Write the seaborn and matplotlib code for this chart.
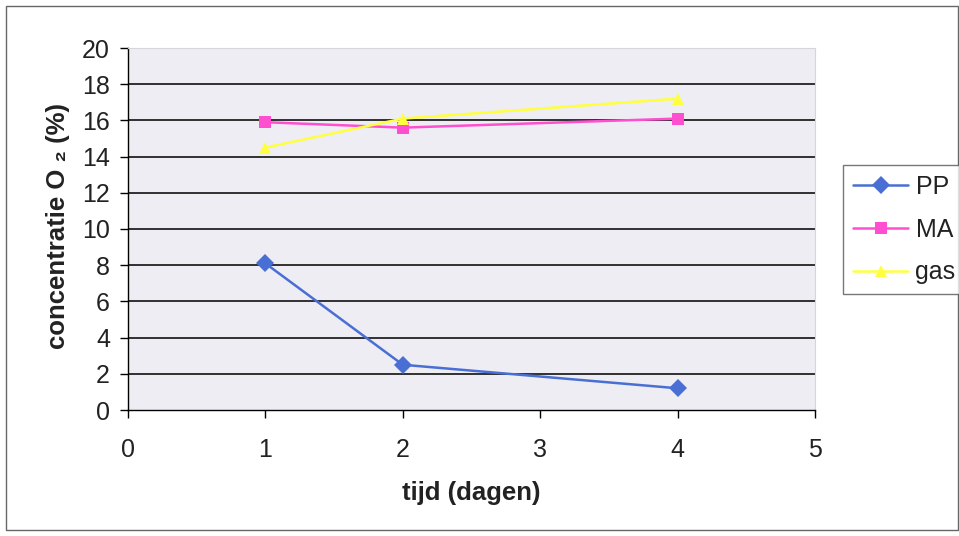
import matplotlib
matplotlib.use("Agg")
import matplotlib.pyplot as plt
import seaborn as sns
import pandas as pd
from matplotlib.patches import Rectangle
from matplotlib.lines import Line2D

days = [1, 2, 4]
pp = [8.1, 2.5, 1.2]
ma = [15.9, 15.6, 16.1]
gas = [14.5, 16.1, 17.2]
series_names = ["PP", "MA", "gas"]
y_ticks = [0, 2, 4, 6, 8, 10, 12, 14, 16, 18, 20]
x_ticks = [0, 1, 2, 3, 4, 5]

df = pd.DataFrame({
    "tijd": days * 3,
    "O2": pp + ma + gas,
    "serie": [n for n in series_names for _ in days],
})

sns.set_theme(style="white")
plt.rcParams["font.family"] = ["Liberation Sans", "DejaVu Sans"]

W, H = 959, 536
fig = plt.figure(figsize=(W / 100, H / 100), dpi=100)
ax = fig.add_axes([128 / W, 1 - 410 / H, 687 / W, 362 / H])
ax.set_facecolor("#ededf3")

palette = {"PP": "#4a6fd4", "MA": "#ff4fd0", "gas": "#ffff40"}
markers = {"PP": "D", "MA": "s", "gas": "^"}
sns.lineplot(data=df, x="tijd", y="O2", hue="serie", style="serie",
             palette=palette, markers=markers, dashes=False,
             markersize=9, linewidth=1.8, markeredgewidth=0, ax=ax, legend=False)

ax.set_xlim(0, 5)
ax.set_ylim(0, 20)
ax.set_xticks(x_ticks)
ax.set_yticks(y_ticks)
for y in y_ticks[1:-1]:
    ax.axhline(y, color="#222222", linewidth=1.3, zorder=0.5)

for s in ["top", "right"]:
    ax.spines[s].set_color("#d5d5dc")
    ax.spines[s].set_linewidth(0.8)
for s in ["left", "bottom"]:
    ax.spines[s].set_color("black")
    ax.spines[s].set_linewidth(1.0)
ax.tick_params(axis="both", direction="out", length=6, width=1, color="black",
               labelcolor="#222222", left=True, bottom=True, labelsize=18)
ax.tick_params(axis="y", pad=7)
ax.tick_params(axis="x", pad=14)

ax.set_xlabel("tijd (dagen)", fontsize=18.5, fontweight="bold", color="#222222")
ax.xaxis.set_label_coords(0.5, (410 - 481) / 362)
ax.xaxis.label.set_va("top")
ax.set_ylabel("concentratie O \u2082 (%)", fontsize=18.5, fontweight="bold", color="#222222")
ax.yaxis.set_label_coords((70 - 128) / 687, (410 - 226) / 362)

handles = [Line2D([0], [0], color=palette[n], marker=markers[n], markersize=9,
                  markeredgewidth=0, linewidth=1.8) for n in series_names]
leg = fig.legend(handles, series_names, loc="upper left",
                 bbox_to_anchor=(843 / W, 1 - 165 / H), borderaxespad=0,
                 frameon=True, fontsize=18, handlelength=2.2, borderpad=0.4,
                 labelspacing=0.75, fancybox=False, handletextpad=0.3)
leg.get_frame().set_edgecolor("#555555")
leg.get_frame().set_linewidth(1.0)
for t in leg.get_texts():
    t.set_color("#222222")

fig.patches.append(Rectangle((6 / W, 6 / H), 952 / W, 524 / H,
                             transform=fig.transFigure, fill=False,
                             edgecolor="#666666", linewidth=1.0))

fig.savefig("out.png", dpi=100)
